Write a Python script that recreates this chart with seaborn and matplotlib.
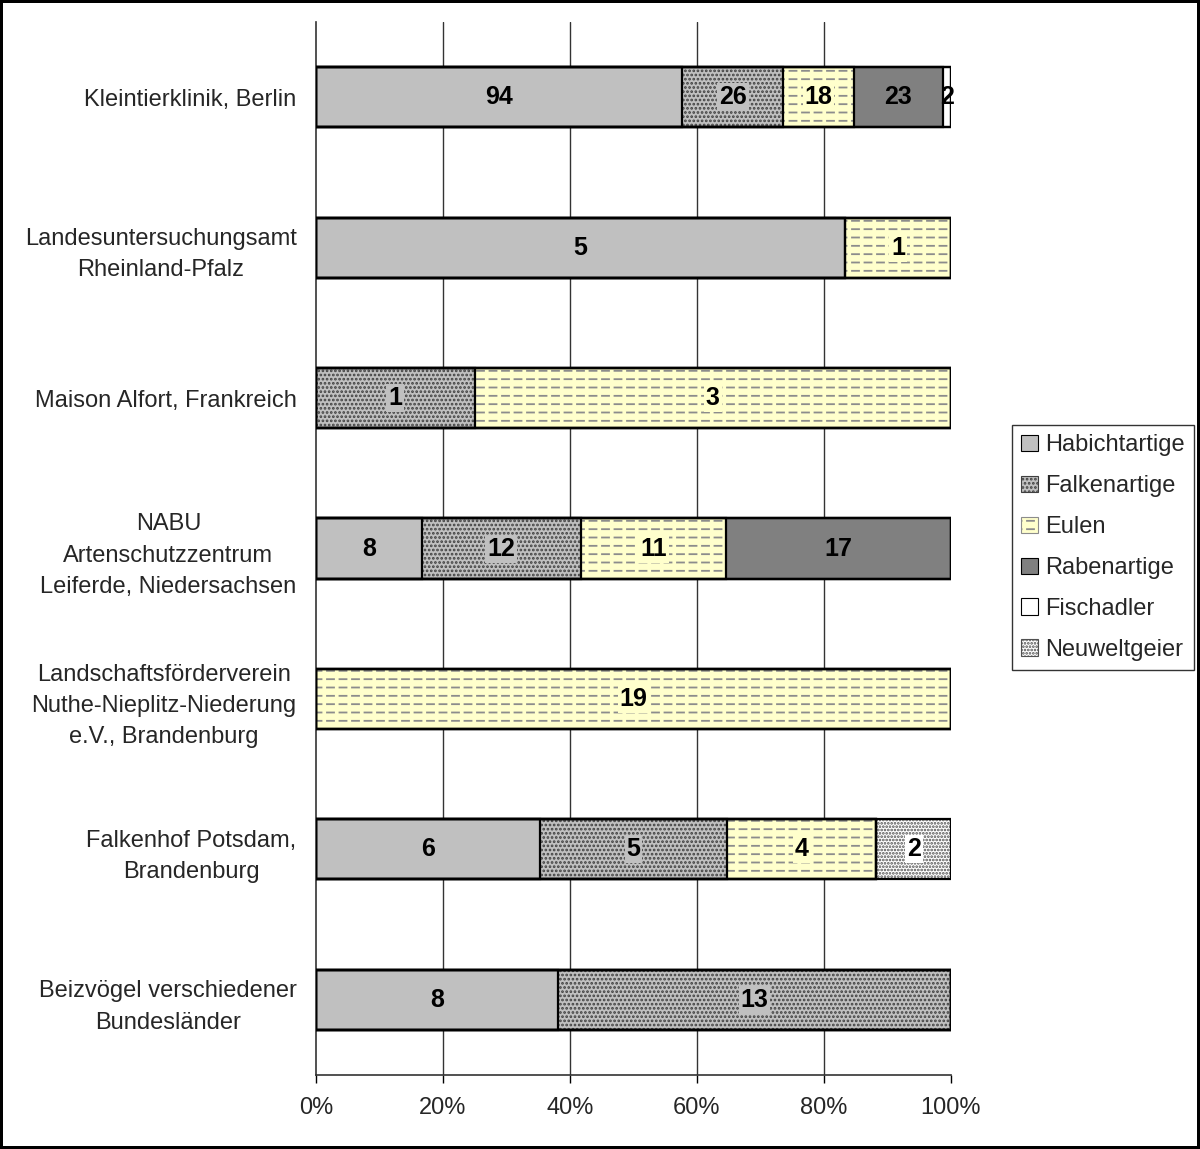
import matplotlib
matplotlib.use("Agg")
import matplotlib.pyplot as plt
import matplotlib.hatch as mhatch
from matplotlib.path import Path
import seaborn as sns
import numpy as np
import pandas as pd
from matplotlib.patches import Patch

categories = [
    "Kleintierklinik, Berlin",
    "Landesuntersuchungsamt\nRheinland-Pfalz",
    "Maison Alfort, Frankreich",
    "NABU\nArtenschutzzentrum\nLeiferde, Niedersachsen",
    "Landschaftsförderverein\nNuthe-Nieplitz-Niederung\ne.V., Brandenburg",
    "Falkenhof Potsdam,\nBrandenburg",
    "Beizvögel verschiedener\nBundesländer",
]
series_names = ["Habichtartige", "Falkenartige", "Eulen", "Rabenartige", "Fischadler", "Neuweltgeier"]
habichtartige = [94, 5, 0, 8, 0, 6, 8]
falkenartige = [26, 0, 1, 12, 0, 5, 13]
eulen = [18, 1, 3, 11, 19, 4, 0]
rabenartige = [23, 0, 0, 17, 0, 0, 0]
fischadler = [2, 0, 0, 0, 0, 0, 0]
neuweltgeier = [0, 0, 0, 0, 0, 2, 0]
x_ticks = [0, 20, 40, 60, 80, 100]
x_tick_labels = ["0%", "20%", "40%", "60%", "80%", "100%"]

series = [habichtartige, falkenartige, eulen, rabenartige, fischadler, neuweltgeier]
styles = [
    dict(face="#c0c0c0", hatch="", hcol="#c0c0c0"),
    dict(face="#c0c0c0", hatch="....", hcol="#404040"),
    dict(face="#ffffcc", hatch="--", hcol="#8c8c8c"),
    dict(face="#808080", hatch="", hcol="#808080"),
    dict(face="#ffffff", hatch="", hcol="#ffffff"),
    dict(face="#ffffff", hatch=".....", hcol="#505050"),
]


# dashed horizontal hatch (replaces the solid '-' hatch lines with short dashes)
class DashedHorizontalHatch(mhatch.HorizontalHatch):
    NDASH = 8
    DW = 0.07

    def __init__(self, hatch, density):
        self.num_lines = int((hatch.count('-') + hatch.count('+')) * density)
        self.num_vertices = self.num_lines * self.NDASH * 2

    def set_vertices_and_codes(self, vertices, codes):
        steps, stepsize = np.linspace(0.0, 1.0, self.num_lines, False, retstep=True)
        steps += stepsize / 2.
        xs = np.linspace(0.0, 1.0, self.NDASH, endpoint=False) + 0.02
        k = 0
        for y in steps:
            for x0 in xs:
                vertices[k] = [x0, y]
                vertices[k + 1] = [x0 + self.DW, y]
                k += 2
        codes[0::2] = Path.MOVETO
        codes[1::2] = Path.LINETO


_idx = mhatch._hatch_types.index(mhatch.HorizontalHatch)
mhatch._hatch_types[_idx] = DashedHorizontalHatch

sns.set_style("white")
plt.rcParams["font.family"] = ["Liberation Sans", "DejaVu Sans"]
plt.rcParams["hatch.linewidth"] = 1.3

vals = np.array(series, dtype=float)
totals = vals.sum(axis=0)
pct = vals / totals * 100
cum = np.cumsum(pct, axis=0)
starts = cum - pct

fig = plt.figure(figsize=(12, 11.49), dpi=100)
fig.patch.set_edgecolor("black")
fig.patch.set_linewidth(3)
ax = fig.add_axes([316 / 1200, 1 - 1075 / 1149, (951 - 316) / 1200, (1075 - 22) / 1149])

# draw cumulative bars from the outermost to innermost so each visible part is one segment
for i in range(len(series) - 1, -1, -1):
    df = pd.DataFrame({"cat": categories, "val": cum[i]})
    st = styles[i]
    sns.barplot(data=df, x="val", y="cat", order=categories, orient="h", ax=ax,
                color=st["face"], saturation=1, width=0.4, hatch=st["hatch"],
                edgecolor=st["hcol"], linewidth=0, zorder=2)
# outlines
for i in range(len(series)):
    df = pd.DataFrame({"cat": categories, "val": cum[i]})
    sns.barplot(data=df, x="val", y="cat", order=categories, orient="h", ax=ax,
                facecolor="none", width=0.4, edgecolor="black", linewidth=1.6, zorder=3)

# value labels
for i in range(len(series)):
    for j in range(len(categories)):
        if vals[i, j] > 0:
            xc = starts[i, j] + pct[i, j] / 2
            bbox = None
            if styles[i]["hatch"] and pct[i, j] > 8:
                bbox = dict(facecolor=styles[i]["face"], edgecolor="none", pad=1.5)
            ax.text(xc, j, f"{int(vals[i, j])}", ha="center", va="center",
                    fontsize=18, fontweight="bold", color="black", zorder=5, bbox=bbox)

ax.set_xlim(0, 100)
ax.set_ylim(len(categories) - 0.5, -0.5)
ax.set_xticks(x_ticks)
ax.set_xticklabels(x_tick_labels, fontsize=17)
ax.set_xlabel("")
ax.set_ylabel("")
ax.set_yticks(range(len(categories)))
ax.set_yticklabels(categories, fontsize=17)
for lbl in ax.get_yticklabels():
    lbl.set_multialignment("center")
    lbl.set_linespacing(1.55)
ax.set_yticks(np.arange(-0.5, len(categories), 1.0), minor=True)
ax.tick_params(axis="y", which="major", length=0, pad=14)
ax.tick_params(axis="y", which="minor", length=6, width=1, color="black", direction="out")
ax.tick_params(axis="x", which="major", length=6, width=1, color="black", direction="out", pad=10, bottom=True)

for x in x_ticks[1:-1]:
    ax.axvline(x, color="#333333", lw=1, zorder=1)

for s in ["top", "right"]:
    ax.spines[s].set_visible(False)
for s in ["left", "bottom"]:
    ax.spines[s].set_visible(True)
    ax.spines[s].set_color("#333333")
    ax.spines[s].set_linewidth(1.2)

handles = []
for st in styles:
    if st["hatch"]:
        handles.append(Patch(facecolor=st["face"], hatch=st["hatch"], edgecolor=st["hcol"], linewidth=0.8))
    else:
        handles.append(Patch(facecolor=st["face"], edgecolor="black", linewidth=0.8))
leg = fig.legend(handles, series_names, loc="upper left", bbox_to_anchor=(1012 / 1200, 1 - 425 / 1149),
                 bbox_transform=fig.transFigure, fontsize=17, frameon=True, fancybox=False,
                 edgecolor="black", handlelength=0.7, handleheight=0.7, handletextpad=0.3,
                 labelspacing=0.8, borderpad=0.4, borderaxespad=0)
leg.get_frame().set_linewidth(1)

fig.savefig("out.png", dpi=100)
